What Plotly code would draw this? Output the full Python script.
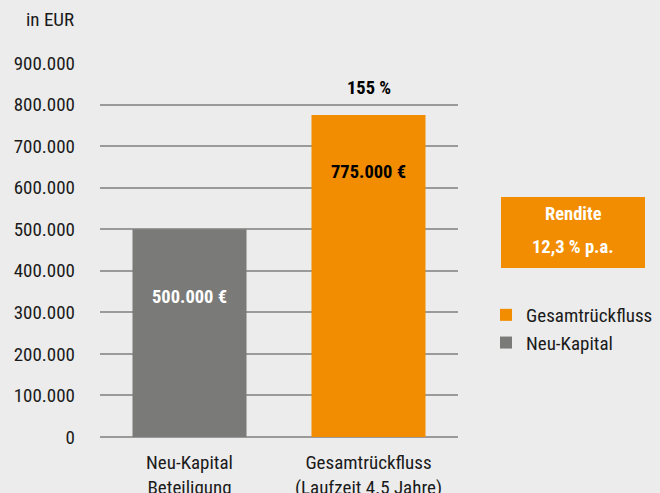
import plotly.graph_objects as go

categories = ["Neu-Kapital<br>Beteiligung", "Gesamtrückfluss<br>(Laufzeit 4.5 Jahre)"]
series_names = ["Gesamtrückfluss", "Neu-Kapital"]
values_gesamt = [775000]
values_neu = [500000]
bar_labels = ["500.000 €", "775.000 €"]
label_y = [337000, 638000]
pct_label = "155 %"
rendite_lines = ["Rendite", "12,3 % p.a."]
tick_vals = [0, 100000, 200000, 300000, 400000, 500000, 600000, 700000, 800000, 900000]
tick_text = ["0", "100.000", "200.000", "300.000", "400.000", "500.000",
             "600.000", "700.000", "800.000", "900.000"]

FONT = "Roboto Condensed, Open Sans Condensed, sans-serif"
ORANGE = "#f28c00"
GREY = "#7a7a78"
BG = "#ececec"
TXT = "#1a1a1a"
FS = 19
BFS = 18.5

# plot area in pixels: x 100..458, y 63..437
PW, PH = 358, 374

def px_x(p):
    return (p - 100) / PW

def px_y(p):
    return (437 - p) / PH

fig = go.Figure()
fig.add_trace(go.Bar(x=[categories[1]], y=values_gesamt, name=series_names[0],
                     marker=dict(color=ORANGE, line=dict(width=0)), hoverinfo="skip"))
fig.add_trace(go.Bar(x=[categories[0]], y=values_neu, name=series_names[1],
                     marker=dict(color=GREY, line=dict(width=0)), hoverinfo="skip"))

fig.add_annotation(x=categories[0], y=label_y[0], xref="x", yref="y", text="<b>" + bar_labels[0] + "</b>",
                   showarrow=False, font=dict(family=FONT, size=BFS, color="white"))
fig.add_annotation(x=categories[1], y=label_y[1], xref="x", yref="y", text="<b>" + bar_labels[1] + "</b>",
                   showarrow=False, font=dict(family=FONT, size=BFS, color="black"))
fig.add_annotation(x=categories[1], y=values_gesamt[0], xref="x", yref="y", yshift=27, text="<b>" + pct_label + "</b>",
                   showarrow=False, font=dict(family=FONT, size=BFS, color="black"))
fig.add_annotation(x=px_x(76), y=px_y(20), xref="paper", yref="paper", text="in EUR", showarrow=False,
                   xanchor="right", yanchor="middle", font=dict(family=FONT, size=FS, color=TXT))

# Rendite box
fig.add_shape(type="rect", xref="paper", yref="paper", x0=px_x(501), x1=px_x(645), y0=px_y(268), y1=px_y(197),
              fillcolor=ORANGE, line=dict(width=0), layer="above")
fig.add_annotation(x=px_x(573), y=px_y(214), xref="paper", yref="paper", text="<b>" + rendite_lines[0] + "</b>",
                   showarrow=False, xanchor="center", yanchor="middle", font=dict(family=FONT, size=BFS, color="white"))
fig.add_annotation(x=px_x(573), y=px_y(247), xref="paper", yref="paper", text="<b>" + rendite_lines[1] + "</b>",
                   showarrow=False, xanchor="center", yanchor="middle", font=dict(family=FONT, size=BFS, color="white"))

fig.update_layout(
    width=660, height=493,
    margin=dict(l=100, r=202, t=63, b=56, autoexpand=False),
    paper_bgcolor=BG, plot_bgcolor=BG,
    barmode="overlay", bargap=0.363,
    showlegend=True,
    legend=dict(x=px_x(486), y=px_y(296), xanchor="left", yanchor="top", bgcolor="rgba(0,0,0,0)",
                font=dict(family=FONT, size=FS, color=TXT)),
    font=dict(family=FONT, size=FS, color=TXT),
    hovermode=False,
    xaxis=dict(categoryorder="array", categoryarray=categories, showgrid=False,
               showline=False, ticks="", ticklabelstandoff=12, tickfont=dict(family=FONT, size=FS, color=TXT)),
    yaxis=dict(range=[0, 900000], tickvals=tick_vals, ticktext=tick_text,
               showgrid=True, gridcolor="#9a9a9a", gridwidth=1.5, zeroline=True,
               zerolinecolor="#9a9a9a", zerolinewidth=1.5, ticks="", ticklabelstandoff=24,
               tickfont=dict(family=FONT, size=FS, color=TXT)),
)
fig.write_html("out.html", config={"displayModeBar": False},
               post_script="document.body.style.margin='0';")
